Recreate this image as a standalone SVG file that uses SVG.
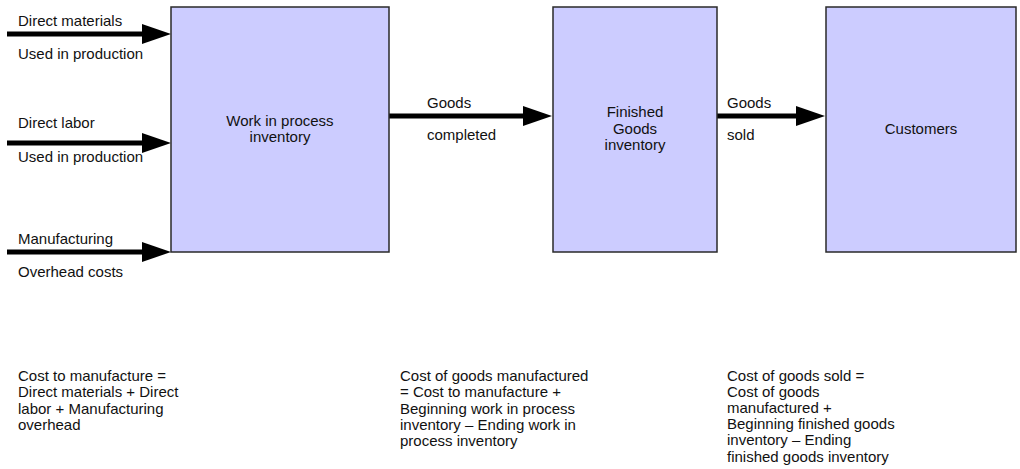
<svg xmlns="http://www.w3.org/2000/svg" width="1020" height="469" viewBox="0 0 1020 469">
<style>
text{font-family:"Liberation Sans",Arial,sans-serif;font-size:15px;fill:#111}
.box{fill:#ccccff;stroke:#2a2a2a;stroke-width:1.5}
.c{text-anchor:middle}
.flow{stroke:#000;stroke-width:5;fill:none;marker-end:url(#ah)}
</style>
<defs>
<marker id="ah" markerUnits="userSpaceOnUse" viewBox="0 0 29 20" refX="1" refY="10" markerWidth="29" markerHeight="20" orient="auto">
<path d="M0,0 L29,10 L0,20 z" fill="#000"/>
</marker>
</defs>
<rect width="1020" height="469" fill="#fff"/>
<g id="connectors">
<line class="flow" x1="7" y1="34" x2="143" y2="34"/>
<line class="flow" x1="7" y1="143" x2="143" y2="143"/>
<line class="flow" x1="7" y1="252" x2="143" y2="252"/>
<line class="flow" x1="389" y1="116" x2="524" y2="116"/>
<line class="flow" x1="717" y1="116" x2="797" y2="116"/>
<text x="18" y="26">Direct materials</text>
<text x="18" y="59">Used in production</text>
<text x="18" y="128">Direct labor</text>
<text x="18" y="162">Used in production</text>
<text x="18" y="244">Manufacturing</text>
<text x="18" y="277">Overhead costs</text>
<text x="427" y="108">Goods</text>
<text x="427" y="140">completed</text>
<text x="727" y="108">Goods</text>
<text x="727" y="140">sold</text>
</g>
<g id="wip">
<rect class="box" x="171" y="7" width="218" height="245"/>
<text class="c" x="280" y="126">Work in process</text>
<text class="c" x="280" y="142">inventory</text>
</g>
<g id="fg">
<rect class="box" x="553" y="7" width="164" height="245"/>
<text class="c" x="635" y="117">Finished</text>
<text class="c" x="635" y="134">Goods</text>
<text class="c" x="635" y="150">inventory</text>
</g>
<g id="customers">
<rect class="box" x="826" y="7" width="190" height="245"/>
<text class="c" x="921" y="134">Customers</text>
</g>
<g id="note1">
<text x="18" y="381">Cost to manufacture =</text>
<text x="18" y="397">Direct materials + Direct</text>
<text x="18" y="414">labor + Manufacturing</text>
<text x="18" y="430">overhead</text>
</g>
<g id="note2">
<text x="400" y="381">Cost of goods manufactured</text>
<text x="400" y="397">= Cost to manufacture +</text>
<text x="400" y="414">Beginning work in process</text>
<text x="400" y="430">inventory – Ending work in</text>
<text x="400" y="446">process inventory</text>
</g>
<g id="note3">
<text x="727" y="381">Cost of goods sold =</text>
<text x="727" y="397">Cost of goods</text>
<text x="727" y="413">manufactured +</text>
<text x="727" y="429">Beginning finished goods</text>
<text x="727" y="445">inventory – Ending</text>
<text x="727" y="462">finished goods inventory</text>
</g>
</svg>
